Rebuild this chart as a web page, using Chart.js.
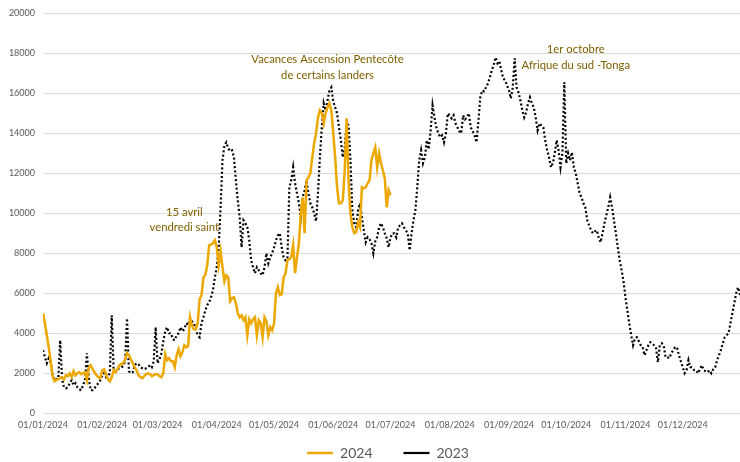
<!DOCTYPE html>
<html>
<head>
<meta charset="utf-8">
<script src="https://cdn.jsdelivr.net/npm/chart.js@4"></script>
<style>
  html, body { margin: 0; padding: 0; background: #fff; }
  #wrap { width: 740px; height: 462px; }
</style>
</head>
<body>
<div id="wrap"><canvas id="chart"></canvas></div>
<script>
// Month starts (day index in 2024) and their tick labels
const monthStarts = [0, 31, 60, 91, 121, 152, 182, 213, 244, 274, 305, 335];
const monthLabels = ['01/01/2024', '01/02/2024', '01/03/2024', '01/04/2024', '01/05/2024', '01/06/2024',
                     '01/07/2024', '01/08/2024', '01/09/2024', '01/10/2024', '01/11/2024', '01/12/2024'];
const yTicks = [0, 2000, 4000, 6000, 8000, 10000, 12000, 14000, 16000, 18000, 20000];

// 2024, daily, from 01/01 to ~30/06
const values2024 = [
  5000, 4500, 3900, 3300, 2600, 1900, 1600, 1650, 1700, 1750,
  1800, 1700, 1900, 1850, 2000, 1800, 2100, 1900, 2000, 2050,
  1950, 2000, 2050, 1650, 2300, 2400, 2200, 2050, 1900, 1800,
  1750, 2150, 2200, 1950, 1700, 1600, 1800, 2150, 2050, 2200,
  2400, 2450, 2500, 2700, 3000, 2900, 2700, 2500, 2300, 2150,
  1900, 1800, 1750, 1850, 1950, 2000, 1950, 1850, 1900, 1950,
  1950, 1850, 1800, 2000, 2950, 2650, 2750, 2600, 2600, 2300,
  2900, 3200, 2850, 3050, 3400, 3300, 3350, 4800, 4400, 4200,
  4200, 4500, 5700, 5900, 6800, 6900, 7400, 8400, 8450, 8500,
  8650, 8300, 7400, 8100, 7300, 6600, 6900, 6800, 5600, 5750,
  5800, 5500, 5000, 4800, 4900, 4650, 4800, 3900, 4700, 4500,
  4700, 4800, 3900, 4650, 4500, 3800, 4800, 4600, 3900, 4300,
  4150, 4500, 6000, 6300, 5900, 5950, 6800, 7000, 7650, 7700,
  7800, 8400, 7000, 7800, 8500, 10000, 10800, 9000, 11650, 11800,
  12000, 12800, 13500, 14000, 14800, 15150, 15000, 14500, 15000, 15300,
  15500, 15150, 14000, 12800, 11300, 10500, 10500, 10650, 12150, 14750,
  11650, 10000, 9300, 9000, 9050, 9550, 9300, 11300, 11250, 11300,
  11500, 11650, 12650, 13000, 13300, 12300, 13000, 12500, 12150, 11750,
  10300, 11150, 10900
];

// 2023, daily, whole year
const values2023 = [
  3150, 2800, 2500, 2750, 2550, 1900, 1650, 1700, 1750, 3650,
  1700, 1300, 1250, 1300, 1500, 1650, 1400, 1500, 1300, 1200,
  1150, 1400, 1650, 3000, 1700, 1150, 1150, 1250, 1400, 1500,
  1650, 1900, 2000, 1800, 1850, 2000, 4900, 2150, 2100, 2200,
  2250, 2300, 2350, 2600, 4750, 2100, 2000, 2050, 2400, 2500,
  2450, 2300, 2250, 2200, 2250, 2300, 2400, 2300, 2600, 4300,
  2500, 2700, 3000, 3600, 4100, 4300, 4000, 4000, 3700, 3650,
  3900, 4000, 4300, 4100, 4200, 4500, 4400, 4750, 4600, 4500,
  4200, 3900, 3800, 4500, 4800, 5150, 5400, 5550, 5800, 6150,
  6800, 7300, 8300, 10300, 12650, 13400, 13550, 13250, 13100, 13150,
  12800, 11650, 10650, 9800, 8300, 9650, 9500, 9300, 8650, 7650,
  7300, 7000, 7300, 7150, 7000, 6900, 7300, 8000, 7500, 7800,
  8000, 8300, 8650, 8900, 9000, 8300, 7800, 7650, 7700, 11300,
  11650, 12300, 11500, 11000, 10500, 9800, 10800, 11150, 11650, 11000,
  10500, 10300, 10000, 9600, 11000, 12800, 14300, 15500, 15150, 15650,
  16150, 16300, 15600, 15300, 15000, 14300, 13650, 12800, 13300, 14500,
  14400, 12650, 10150, 9500, 9300, 10150, 10500, 9800, 9150, 8550,
  8800, 8700, 8500, 8000, 8600, 8800, 9300, 9500, 9300, 9000,
  8750, 8300, 8800, 9000, 9000, 8800, 9300, 9400, 9500, 9300,
  9150, 9000, 8150, 9000, 9650, 10150, 11300, 12650, 13150, 12500,
  12800, 13650, 13200, 14150, 15400, 14800, 14300, 14000, 13800, 13900,
  13550, 14000, 15000, 14900, 14750, 14900, 14500, 14300, 14100, 14000,
  14900, 14700, 14800, 15000, 14300, 14100, 13900, 13550, 14600, 15800,
  16150, 16100, 16300, 16500, 16800, 17150, 17400, 17800, 17500, 17600,
  17150, 16750, 16650, 16400, 16150, 15750, 16300, 17750, 16300, 16050,
  15650, 15150, 14800, 15050, 15500, 15800, 15500, 15300, 14800, 14150,
  14500, 14400, 14300, 13650, 13150, 12800, 12300, 12500, 13000, 13650,
  13150, 12300, 13000, 16550, 12500, 13000, 12650, 13050, 12300, 12000,
  11500, 11000, 10800, 10500, 10300, 9650, 9400, 9150, 9000, 9100,
  9150, 8800, 8550, 9000, 9500, 9900, 10300, 10800, 10300, 9650,
  9000, 8300, 7650, 7150, 6600, 5800, 5150, 4500, 3900, 3400,
  3750, 3800, 3600, 3400, 3300, 2900, 3150, 3400, 3550, 3500,
  3400, 3300, 2550, 3400, 3500, 3400, 2800, 2800, 2750, 3000,
  3150, 3300, 3300, 2900, 2600, 2300, 2000, 2150, 2650, 2300,
  2300, 2150, 2150, 2000, 2200, 2400, 2150, 2100, 2050, 2150,
  2000, 2200, 2300, 2650, 2900, 3150, 3500, 3800, 3900, 4000,
  4500, 5000, 5500, 6000, 6300, 5900
];

// Text notes: [day, value, lines]
const notes = [
  [74, 10050, ['15 avril', 'vendredi saint']],
  [149, 17700, ['Vacances Ascension Pentecôte', 'de certains landers']],
  [279, 18200, ['1er octobre', 'Afrique du sud -Tonga']]
];

const notesPlugin = {
  id: 'notes',
  afterLayout(chart) {
    // legend sits a bit right of centre in the original
    chart.legend.left += 18;
    chart.legend.right += 18;
  },
  afterDatasetsDraw(chart) {
    const ctx = chart.ctx, xs = chart.scales.x, ys = chart.scales.y;
    ctx.save();
    ctx.font = '11.3px Lato';
    ctx.fillStyle = '#7f6000';
    ctx.textAlign = 'center';
    ctx.textBaseline = 'middle';
    notes.forEach(([d, v, lines]) => {
      const px = xs.getPixelForValue(d), py = ys.getPixelForValue(v);
      lines.forEach((t, i) => ctx.fillText(t, px, py + i * 15.5));
    });
    ctx.restore();
  }
};

new Chart(document.getElementById('chart'), {
  type: 'line',
  data: {
    datasets: [{
      label: '2024',
      data: values2024.map((v, i) => ({x: i, y: v})),
      borderColor: '#eda800',
      backgroundColor: '#eda800',
      borderWidth: 2.5,
      pointRadius: 0,
      tension: 0
    }, {
      label: '2023',
      data: values2023.map((v, i) => ({x: i, y: v})),
      borderColor: '#000',
      backgroundColor: '#000',
      borderWidth: 2.2,
      borderDash: [2, 2.3],
      pointRadius: 0,
      tension: 0
    }]
  },
  options: {
    responsive: true,
    maintainAspectRatio: false,
    animation: false,
    layout: { padding: { top: 8, right: 0, left: 0, bottom: -8 } },
    scales: {
      x: {
        type: 'linear',
        min: 0,
        max: 365,
        afterBuildTicks: axis => { axis.ticks = monthStarts.map(v => ({value: v})); },
        grid: { display: false, drawTicks: false },
        border: { color: '#d9d9d9' },
        ticks: {
          autoSkip: false,
          maxRotation: 0,
          padding: 6,
          color: '#595959',
          font: { family: 'Lato', size: 9 },
          callback: v => monthLabels[monthStarts.indexOf(v)]
        }
      },
      y: {
        min: 0,
        max: 20000,
        afterBuildTicks: axis => { axis.ticks = yTicks.map(v => ({value: v})); },
        afterFit: scale => { scale.width = 43; },
        grid: { color: '#d9d9d9', drawTicks: false },
        border: { display: false },
        ticks: {
          padding: 8,
          color: '#595959',
          font: { family: 'Lato', size: 9 },
          callback: v => String(v)
        }
      }
    },
    plugins: {
      legend: {
        position: 'bottom',
        labels: {
          usePointStyle: true,
          pointStyle: 'line',
          pointStyleWidth: 26,
          boxHeight: 8,
          padding: 10,
          color: '#595959',
          font: { family: 'Lato', size: 14 },
          generateLabels: chart => {
            const items = Chart.defaults.plugins.legend.labels.generateLabels(chart);
            items[0].text += '\u2003\u2003';
            return items;
          }
        }
      },
      tooltip: { enabled: false }
    }
  },
  plugins: [notesPlugin]
});
</script>
</body>
</html>
